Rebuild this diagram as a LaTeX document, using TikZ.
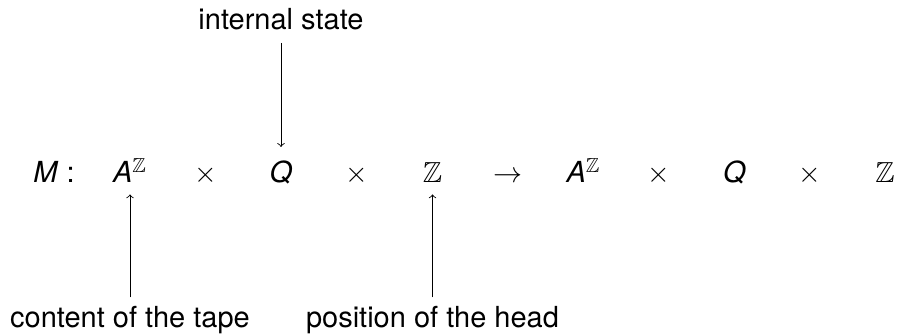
\documentclass[tikz,border=0pt]{standalone}
\usepackage{fix-cm}
\usepackage{amssymb}
\usepackage{fontspec}
\setmainfont{TeX Gyre Heros}
\begin{document}
\begin{tikzpicture}[x=0.5pt,y=-0.5pt,
  every node/.style={inner sep=0pt,anchor=base,font=\fontsize{14.5}{17}\selectfont},
  arr/.style={->,line width=0.45pt}]
\useasboundingbox (0,0) rectangle (899,336);
\node (M) at (54,183) {\textit{M} :};
\node (A1) at (130,183) {\textit{A}$^{\mathbb{Z}}$};
\node (x1) at (205.5,183) {$\times$};
\node (Q1) at (281,183) {\textit{Q}};
\node (x2) at (357,183) {$\times$};
\node (Z1) at (432.5,183) {$\mathbb{Z}$};
\node (to) at (508,183) {$\to$};
\node (A2) at (583.5,183) {\textit{A}$^{\mathbb{Z}}$};
\node (x3) at (659,183) {$\times$};
\node (Q2) at (734.5,183) {\textit{Q}};
\node (x4) at (810,183) {$\times$};
\node (Z2) at (885,183) {$\mathbb{Z}$};
\node (is) at (281,30) {internal state};
\node (ct) at (130,327) {content of the tape};
\node (ph) at (432.5,327) {position of the head};
\draw[arr,shorten <=6pt,shorten >=7pt] (is.south) -- (Q1.north);
\draw[arr,shorten <=4pt,shorten >=5.5pt] (ct.north) -- (A1.south);
\draw[arr,shorten <=4pt,shorten >=5.5pt] (ph.north) -- (Z1.south);
\end{tikzpicture}
\end{document}
